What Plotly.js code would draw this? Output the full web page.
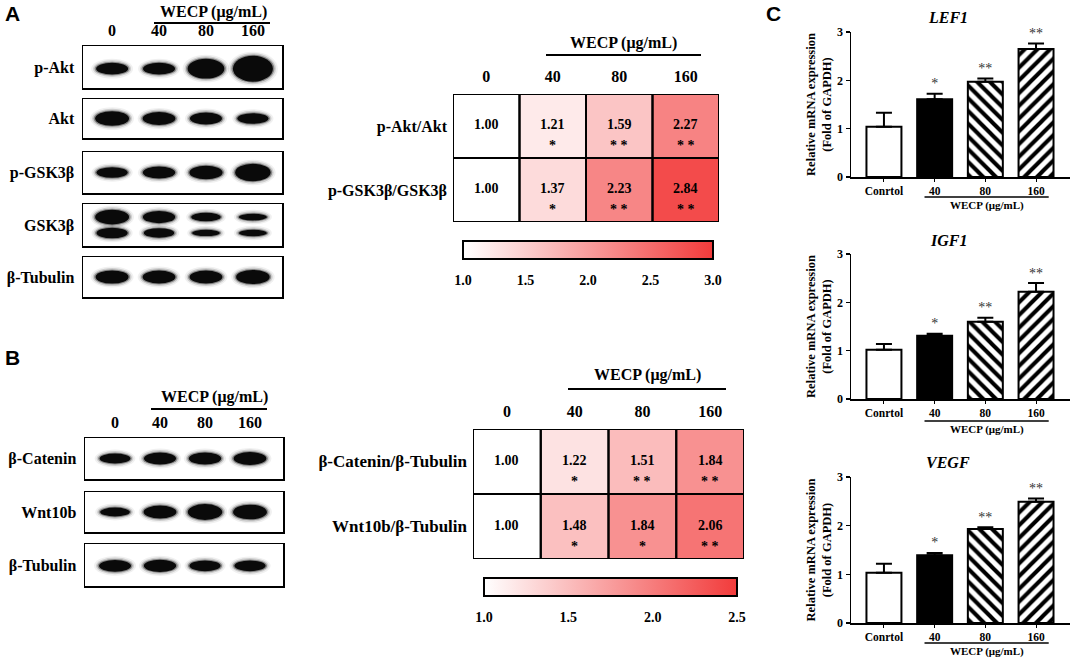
<!DOCTYPE html>
<html><head><meta charset="utf-8">
<script src="https://cdn.plot.ly/plotly-3.0.1.min.js"></script>
<style>body{margin:0;background:#fff}#plot{width:1072px;height:659px}</style>
</head><body><div id="plot"></div>
<script>
// ---------------- DATA ----------------
const laneLabels = ['0', '40', '80', '160'];
// relative band densities read from the blots (lanes 0, 40, 80, 160)
const bandPAkt   = [0.50, 0.50, 0.80, 1.00];
const bandAkt    = [0.62, 0.55, 0.50, 0.45];
const bandPGSK   = [0.45, 0.52, 0.58, 0.72];
const bandGSKUp  = [0.62, 0.52, 0.35, 0.25];
const bandGSKLow = [0.45, 0.40, 0.22, 0.24];
const bandTubA   = [0.56, 0.55, 0.55, 0.60];
const bandCat    = [0.42, 0.50, 0.52, 0.55];
const bandWnt    = [0.36, 0.55, 0.66, 0.62];
const bandTubB   = [0.50, 0.52, 0.45, 0.45];

const heatRowsA = ['p-Akt/Akt', 'p-GSK3β/GSK3β'];
const heatA = [[1.00, 1.21, 1.59, 2.27], [1.00, 1.37, 2.23, 2.84]];
const sigA  = [['', '*', '* *', '* *'], ['', '*', '* *', '* *']];
const heatRowsB = ['β-Catenin/β-Tubulin', 'Wnt10b/β-Tubulin'];
const heatB = [[1.00, 1.22, 1.51, 1.84], [1.00, 1.48, 1.84, 2.06]];
const sigB  = [['', '*', '* *', '* *'], ['', '*', '*', '* *']];
const cbTicksA = [1.0, 1.5, 2.0, 2.5, 3.0];
const cbTicksB = [1.0, 1.5, 2.0, 2.5];

const barCats = ['Conrtol', '40', '80', '160'];
const lef1Mean = [1.04, 1.61, 1.97, 2.65];
const lef1Err  = [0.29, 0.11, 0.07, 0.11];
const igf1Mean = [1.02, 1.31, 1.60, 2.22];
const igf1Err  = [0.12, 0.04, 0.08, 0.18];
const vegfMean = [1.03, 1.39, 1.93, 2.49];
const vegfErr  = [0.19, 0.05, 0.04, 0.07];
const barSig   = ['', '*', '**', '**'];

// ---------------- LAYOUT HELPERS ----------------
const W = 1072, H = 659;
const xd = (a, b) => [a / W, b / W];
const yd = (t, b) => [1 - b / H, 1 - t / H];
const px = v => v / W, py = v => 1 - v / H;
const serif = 'Liberation Serif, Times New Roman, serif';
const F = (size, extra) => Object.assign({family: serif, size: size, color: '#000', weight: 'bold'}, extra || {});
const ann = o => Object.assign({showarrow: false, xanchor: 'center', yanchor: 'middle'}, o);

const layout = {
  width: W, height: H, margin: {l: 0, r: 0, t: 0, b: 0},
  paper_bgcolor: '#fff', plot_bgcolor: '#fff', showlegend: false,
  hovermode: false, barmode: 'overlay', shapes: [], annotations: []
};
const data = [];
let axN = 1;
const aid = n => (n === 1 ? '' : String(n));

// ---------------- WESTERN BLOTS ----------------
function addBlots(group) {
  group.rows.forEach((row, i) => {
    const id = aid(axN++);
    const span = group.range[1] - group.range[0];
    const pxLane = (group.right - group.left) / span;
    const boxH = row.bot - row.top;
    layout['xaxis' + id] = {
      domain: xd(group.left, group.right), range: group.range, anchor: 'y' + id,
      showline: true, mirror: true, linewidth: 1.5, linecolor: '#000',
      showgrid: false, zeroline: false, ticks: '',
      side: 'top', showticklabels: i === 0, tickmode: 'array',
      tickvals: [0, 1, 2, 3], ticktext: group.lanes, tickfont: F(16), ticklabelstandoff: 2
    };
    layout['yaxis' + id] = {
      domain: yd(row.top, row.bot), range: [0, 1], anchor: 'x' + id,
      showline: true, mirror: true, linewidth: 1.5, linecolor: '#000',
      showgrid: false, zeroline: false, ticks: '', tickmode: 'array',
      tickvals: [0.5], ticktext: [row.label], tickfont: F(16), ticklabelstandoff: 4
    };
    data.push({type: 'scatter', mode: 'markers', x: [0, 1, 2, 3], y: [0.5, 0.5, 0.5, 0.5],
      marker: {opacity: 0}, hoverinfo: 'skip', xaxis: 'x' + id, yaxis: 'y' + id});
    row.bands.forEach(b => {
      b.d.forEach((d, lane) => {
        const wPx = 24 + 16 * d, hPx = 4 + 22 * Math.pow(d, 1.5);
        const layers = [[10, 8, 'rgba(0,0,0,0.06)'], [6, 5, 'rgba(0,0,0,0.14)'],
                        [3, 2, 'rgba(0,0,0,0.35)'], [0, 0, '#0a0a0a']];
        layers.forEach(L => {
          const hw = (wPx + L[0]) / 2 / pxLane, hh = (hPx + L[1]) / 2 / boxH;
          layout.shapes.push({type: 'circle', xref: 'x' + id, yref: 'y' + id,
            x0: lane - hw, x1: lane + hw, y0: b.yc - hh, y1: b.yc + hh,
            fillcolor: L[2], line: {width: 0}, layer: 'above'});
        });
      });
    });
  });
}
addBlots({left: 83, right: 282, range: [-0.62, 3.62], lanes: laneLabels, rows: [
  {label: 'p-Akt', top: 46, bot: 88, bands: [{yc: 0.46, d: bandPAkt}]},
  {label: 'Akt', top: 99, bot: 138, bands: [{yc: 0.5, d: bandAkt}]},
  {label: 'p-GSK3β', top: 152, bot: 193, bands: [{yc: 0.5, d: bandPGSK}]},
  {label: 'GSK3β', top: 204, bot: 246, bands: [{yc: 0.69, d: bandGSKUp}, {yc: 0.31, d: bandGSKLow}]},
  {label: 'β-Tubulin', top: 257, bot: 297, bands: [{yc: 0.5, d: bandTubA}]}
]});
addBlots({left: 85, right: 283, range: [-0.667, 3.733], lanes: laneLabels, rows: [
  {label: 'β-Catenin', top: 438, bot: 479, bands: [{yc: 0.5, d: bandCat}]},
  {label: 'Wnt10b', top: 492, bot: 532, bands: [{yc: 0.5, d: bandWnt}]},
  {label: 'β-Tubulin', top: 544, bot: 586, bands: [{yc: 0.48, d: bandTubB}]}
]});

// ---------------- HEATMAPS ----------------
const redScale = [[0, '#ffffff'], [1, '#f23b3b']];
function addHeat(h) {
  const id = aid(axN++);
  layout['xaxis' + id] = {
    domain: xd(h.left, h.right), range: [-0.5, 3.5], anchor: 'y' + id, side: 'top',
    showline: false, showgrid: false, zeroline: false, ticks: '', tickmode: 'array',
    tickvals: [0, 1, 2, 3], ticktext: laneLabels, tickfont: F(16), ticklabelstandoff: 8
  };
  layout['yaxis' + id] = {
    domain: yd(h.top, h.bot), range: [1.5, -0.5], anchor: 'x' + id,
    showline: false, showgrid: false, zeroline: false, ticks: '', tickmode: 'array',
    tickvals: [0, 1], ticktext: h.rows, tickfont: F(h.rowFont), ticklabelstandoff: 5
  };
  const cbH = 18;
  data.push({type: 'heatmap', x: [0, 1, 2, 3], y: [0, 1], z: h.z, zmin: h.zmin, zmax: h.zmax,
    colorscale: redScale, hoverinfo: 'skip', xaxis: 'x' + id, yaxis: 'y' + id,
    colorbar: {orientation: 'h', x: px((h.cbL + h.cbR) / 2), xanchor: 'center',
      y: py(h.cbT), yanchor: 'top', len: h.cbR - h.cbL, lenmode: 'pixels',
      thickness: cbH, thicknessmode: 'pixels', xpad: 0, ypad: 0,
      outlinewidth: 2, outlinecolor: '#000', ticks: 'outside', ticklen: 9, tickwidth: 1,
      tickcolor: 'rgba(0,0,0,0)', tickmode: 'array', tickvals: h.cbTicks,
      ticktext: h.cbTicks.map(v => v.toFixed(1)), tickfont: F(14)}});
  // inner tick marks on the colour bar (top and bottom edges)
  h.cbTicks.forEach(v => {
    if (v <= h.zmin || v >= h.zmax) return;
    const xx = px(h.cbL + (v - h.zmin) / (h.zmax - h.zmin) * (h.cbR - h.cbL));
    [[h.cbT, h.cbT + 4], [h.cbT + cbH - 4, h.cbT + cbH]].forEach(seg => {
      layout.shapes.push({type: 'line', xref: 'paper', yref: 'paper', x0: xx, x1: xx,
        y0: py(seg[0]), y1: py(seg[1]), line: {color: '#000', width: 2}});
    });
  });
  h.z.forEach((row, r) => row.forEach((v, c) => {
    layout.shapes.push({type: 'rect', xref: 'x' + id, yref: 'y' + id,
      x0: c - 0.5, x1: c + 0.5, y0: r - 0.5, y1: r + 0.5, line: {color: '#000', width: 2}, layer: 'above'});
    layout.annotations.push(ann({xref: 'x' + id, yref: 'y' + id, x: c, y: r - 0.02,
      text: v.toFixed(2), font: F(14)}));
    if (h.sig[r][c]) layout.annotations.push(ann({xref: 'x' + id, yref: 'y' + id, x: c, y: r + 0.3,
      text: h.sig[r][c], font: F(14)}));
  }));
}
addHeat({left: 453, right: 719, top: 94, bot: 222, z: heatA, sig: sigA, rows: heatRowsA, rowFont: 16,
  zmin: 1, zmax: 3, cbL: 463, cbR: 713, cbT: 241, cbTicks: cbTicksA});
addHeat({left: 473, right: 744, top: 429, bot: 559, z: heatB, sig: sigB, rows: heatRowsB, rowFont: 17,
  zmin: 1, zmax: 2.5, cbL: 484, cbR: 737, cbT: 578, cbTicks: cbTicksB});

// ---------------- BAR CHARTS ----------------
const barFill = ['#ffffff', '#000000', '#ffffff', '#ffffff'];
const barHatch = ['', '', '\\', '/'];
function addBars(b) {
  const id = aid(axN++);
  layout['xaxis' + id] = {
    domain: xd(851, 1070), type: 'category', categoryarray: barCats, categoryorder: 'array',
    range: [-0.65, 3.67], anchor: 'y' + id,
    showline: true, linewidth: 1.5, linecolor: '#000', showgrid: false, zeroline: false,
    ticks: 'outside', ticklen: 3, tickwidth: 1, tickcolor: '#000', tickfont: F(11.5), ticklabelstandoff: 0
  };
  layout['yaxis' + id] = {
    domain: yd(b.top, b.bot), range: [0, 3], anchor: 'x' + id,
    showline: true, linewidth: 1.5, linecolor: '#000', showgrid: false, zeroline: false,
    ticks: 'outside', ticklen: 4, tickwidth: 1.5, tickcolor: '#000', tickmode: 'array',
    tickvals: [0, 1, 2, 3], tickfont: F(12),
    title: {text: 'Relative mRNA expression<br>(Fold of GAPDH)', font: F(12.5), standoff: 2}
  };
  barCats.forEach((cat, i) => {
    const marker = {color: barFill[i], line: {color: '#000', width: 2}};
    if (barHatch[i]) marker.pattern = {shape: barHatch[i], fgcolor: '#000', bgcolor: '#ffffff',
      size: 9, solidity: 0.45, fillmode: 'replace'};
    data.push({type: 'bar', x: [cat], y: [b.mean[i]], width: 0.69, xaxis: 'x' + id, yaxis: 'y' + id,
      hoverinfo: 'skip', marker: marker,
      error_y: {type: 'data', symmetric: false, array: [b.err[i]], arrayminus: [0],
        color: '#000', thickness: 2, width: 8}});
  });
  data.push({type: 'scatter', mode: 'text', x: barCats, y: b.mean.map((m, i) => m + b.err[i] + 0.04),
    text: barSig, textposition: 'top center', textfont: {family: serif, size: 14, color: '#333'},
    cliponaxis: false, hoverinfo: 'skip', xaxis: 'x' + id, yaxis: 'y' + id});
  layout.shapes.push({type: 'line', xref: 'x' + id, yref: 'paper', x0: 0.8, x1: 3.25,
    y0: py(b.line), y1: py(b.line), line: {color: '#000', width: 1.5}});
  layout.annotations.push(ann({xref: 'x' + id, yref: 'paper', x: 2.03, y: py(b.line + 8),
    text: 'WECP (μg/mL)', font: F(11)}));
  layout.annotations.push(ann({xref: 'paper', yref: 'paper', x: px(948), y: py(b.titleY),
    text: '<i>' + b.name + '</i>', font: F(16)}));
}
addBars({name: 'LEF1', top: 32, bot: 177, mean: lef1Mean, err: lef1Err, line: 197, titleY: 18});
addBars({name: 'IGF1', top: 254, bot: 399, mean: igf1Mean, err: igf1Err, line: 421, titleY: 240});
addBars({name: 'VEGF', top: 477, bot: 623, mean: vegfMean, err: vegfErr, line: 643, titleY: 462});

// ---------------- HEADERS / PANEL LETTERS ----------------
[[213, 12, 154, 270, 23], [214, 397, 151, 267, 409], [623, 43, 546, 701, 55], [647, 375, 568, 726, 389]]
  .forEach(h => {
    layout.annotations.push(ann({xref: 'paper', yref: 'paper', x: px(h[0]), y: py(h[1]),
      text: 'WECP (μg/mL)', font: F(16)}));
    layout.shapes.push({type: 'line', xref: 'paper', yref: 'paper', x0: px(h[2]), x1: px(h[3]),
      y0: py(h[4]), y1: py(h[4]), line: {color: '#000', width: 2}});
  });
[['A', 12, 14], ['B', 12, 358], ['C', 773, 14]].forEach(l => {
  layout.annotations.push(ann({xref: 'paper', yref: 'paper', x: px(l[1]), y: py(l[2]), text: l[0],
    font: {family: 'Liberation Sans, Arial, sans-serif', size: 21, color: '#000', weight: 'bold'}}));
});

Plotly.newPlot('plot', data, layout, {staticPlot: true, displayModeBar: false});
</script></body></html>
